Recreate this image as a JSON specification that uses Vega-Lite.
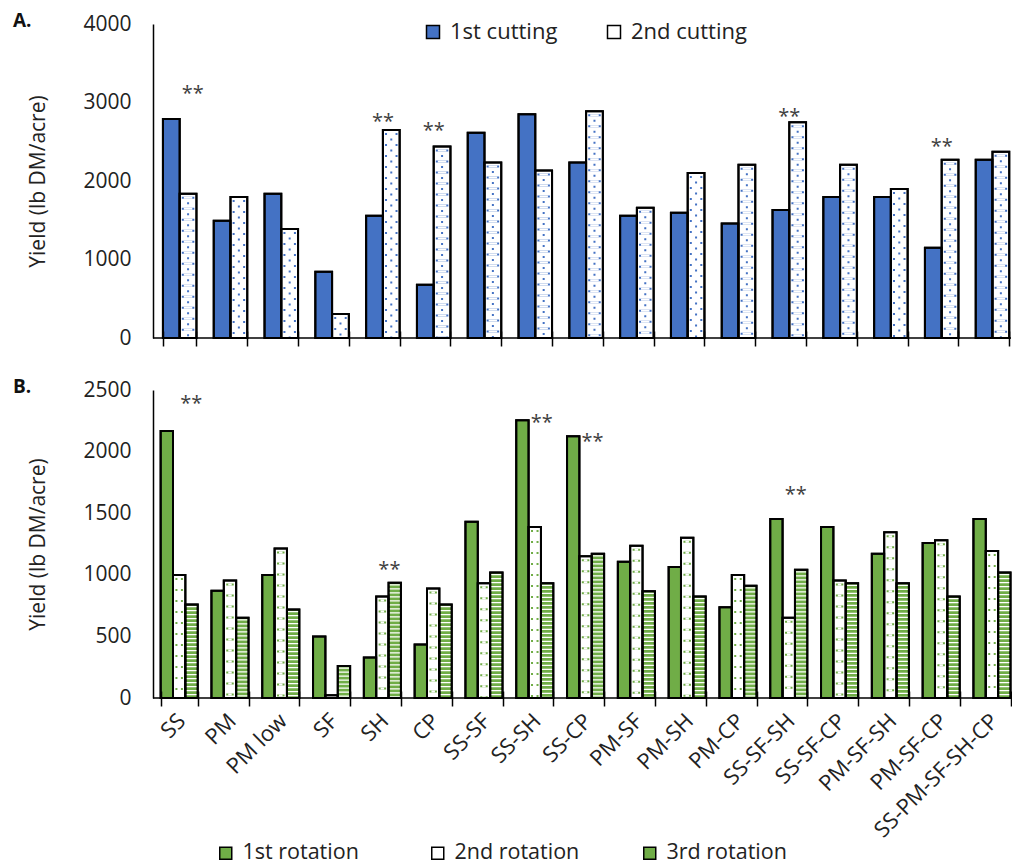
{
  "$schema": "https://vega.github.io/schema/vega-lite/v6.json",
  "padding": {"left": 12, "top": 12, "right": 0, "bottom": 4},
  "config": {
    "view": {"stroke": null},
    "font": "Open Sans",
    "axis": {"labelFont": "Open Sans", "titleFont": "Open Sans", "labelColor": "#222", "titleColor": "#222"},
    "legend": {"labelFont": "Open Sans"},
    "title": {"font": "Open Sans"}
  },
  "datasets": {
    "a": [
      {"treatment": "SS", "cutting": "1st cutting", "yield": 2790}, {"treatment": "SS", "cutting": "2nd cutting", "yield": 1838},
      {"treatment": "PM", "cutting": "1st cutting", "yield": 1494}, {"treatment": "PM", "cutting": "2nd cutting", "yield": 1796},
      {"treatment": "PM low", "cutting": "1st cutting", "yield": 1838}, {"treatment": "PM low", "cutting": "2nd cutting", "yield": 1389},
      {"treatment": "SF", "cutting": "1st cutting", "yield": 845}, {"treatment": "SF", "cutting": "2nd cutting", "yield": 306},
      {"treatment": "SH", "cutting": "1st cutting", "yield": 1558}, {"treatment": "SH", "cutting": "2nd cutting", "yield": 2650},
      {"treatment": "CP", "cutting": "1st cutting", "yield": 679}, {"treatment": "CP", "cutting": "2nd cutting", "yield": 2441},
      {"treatment": "SS-SF", "cutting": "1st cutting", "yield": 2615}, {"treatment": "SS-SF", "cutting": "2nd cutting", "yield": 2237},
      {"treatment": "SS-SH", "cutting": "1st cutting", "yield": 2849}, {"treatment": "SS-SH", "cutting": "2nd cutting", "yield": 2135},
      {"treatment": "SS-CP", "cutting": "1st cutting", "yield": 2237}, {"treatment": "SS-CP", "cutting": "2nd cutting", "yield": 2887},
      {"treatment": "PM-SF", "cutting": "1st cutting", "yield": 1558}, {"treatment": "PM-SF", "cutting": "2nd cutting", "yield": 1660},
      {"treatment": "PM-SH", "cutting": "1st cutting", "yield": 1596}, {"treatment": "PM-SH", "cutting": "2nd cutting", "yield": 2102},
      {"treatment": "PM-CP", "cutting": "1st cutting", "yield": 1460}, {"treatment": "PM-CP", "cutting": "2nd cutting", "yield": 2208},
      {"treatment": "SS-SF-SH", "cutting": "1st cutting", "yield": 1631}, {"treatment": "SS-SF-SH", "cutting": "2nd cutting", "yield": 2747},
      {"treatment": "SS-SF-CP", "cutting": "1st cutting", "yield": 1796}, {"treatment": "SS-SF-CP", "cutting": "2nd cutting", "yield": 2208},
      {"treatment": "PM-SF-SH", "cutting": "1st cutting", "yield": 1796}, {"treatment": "PM-SF-SH", "cutting": "2nd cutting", "yield": 1898},
      {"treatment": "PM-SF-CP", "cutting": "1st cutting", "yield": 1150}, {"treatment": "PM-SF-CP", "cutting": "2nd cutting", "yield": 2271},
      {"treatment": "SS-PM-SF-SH-CP", "cutting": "1st cutting", "yield": 2271}, {"treatment": "SS-PM-SF-SH-CP", "cutting": "2nd cutting", "yield": 2373}
    ],
    "b": [
      {"treatment": "SS", "rotation": "1st rotation", "yield": 2168}, {"treatment": "SS", "rotation": "2nd rotation", "yield": 998}, {"treatment": "SS", "rotation": "3rd rotation", "yield": 759},
      {"treatment": "PM", "rotation": "1st rotation", "yield": 870}, {"treatment": "PM", "rotation": "2nd rotation", "yield": 954}, {"treatment": "PM", "rotation": "3rd rotation", "yield": 651},
      {"treatment": "PM low", "rotation": "1st rotation", "yield": 998}, {"treatment": "PM low", "rotation": "2nd rotation", "yield": 1214}, {"treatment": "PM low", "rotation": "3rd rotation", "yield": 718},
      {"treatment": "SF", "rotation": "1st rotation", "yield": 499}, {"treatment": "SF", "rotation": "2nd rotation", "yield": 22}, {"treatment": "SF", "rotation": "3rd rotation", "yield": 260},
      {"treatment": "SH", "rotation": "1st rotation", "yield": 328}, {"treatment": "SH", "rotation": "2nd rotation", "yield": 824}, {"treatment": "SH", "rotation": "3rd rotation", "yield": 935},
      {"treatment": "CP", "rotation": "1st rotation", "yield": 434}, {"treatment": "CP", "rotation": "2nd rotation", "yield": 889}, {"treatment": "CP", "rotation": "3rd rotation", "yield": 759},
      {"treatment": "SS-SF", "rotation": "1st rotation", "yield": 1431}, {"treatment": "SS-SF", "rotation": "2nd rotation", "yield": 932}, {"treatment": "SS-SF", "rotation": "3rd rotation", "yield": 1019},
      {"treatment": "SS-SH", "rotation": "1st rotation", "yield": 2255}, {"treatment": "SS-SH", "rotation": "2nd rotation", "yield": 1388}, {"treatment": "SS-SH", "rotation": "3rd rotation", "yield": 932},
      {"treatment": "SS-CP", "rotation": "1st rotation", "yield": 2125}, {"treatment": "SS-CP", "rotation": "2nd rotation", "yield": 1150}, {"treatment": "SS-CP", "rotation": "3rd rotation", "yield": 1171},
      {"treatment": "PM-SF", "rotation": "1st rotation", "yield": 1106}, {"treatment": "PM-SF", "rotation": "2nd rotation", "yield": 1236}, {"treatment": "PM-SF", "rotation": "3rd rotation", "yield": 867},
      {"treatment": "PM-SH", "rotation": "1st rotation", "yield": 1063}, {"treatment": "PM-SH", "rotation": "2nd rotation", "yield": 1301}, {"treatment": "PM-SH", "rotation": "3rd rotation", "yield": 824},
      {"treatment": "PM-CP", "rotation": "1st rotation", "yield": 737}, {"treatment": "PM-CP", "rotation": "2nd rotation", "yield": 998}, {"treatment": "PM-CP", "rotation": "3rd rotation", "yield": 911},
      {"treatment": "SS-SF-SH", "rotation": "1st rotation", "yield": 1453}, {"treatment": "SS-SF-SH", "rotation": "2nd rotation", "yield": 651}, {"treatment": "SS-SF-SH", "rotation": "3rd rotation", "yield": 1041},
      {"treatment": "SS-SF-CP", "rotation": "1st rotation", "yield": 1388}, {"treatment": "SS-SF-CP", "rotation": "2nd rotation", "yield": 954}, {"treatment": "SS-SF-CP", "rotation": "3rd rotation", "yield": 932},
      {"treatment": "PM-SF-SH", "rotation": "1st rotation", "yield": 1171}, {"treatment": "PM-SF-SH", "rotation": "2nd rotation", "yield": 1345}, {"treatment": "PM-SF-SH", "rotation": "3rd rotation", "yield": 932},
      {"treatment": "PM-SF-CP", "rotation": "1st rotation", "yield": 1258}, {"treatment": "PM-SF-CP", "rotation": "2nd rotation", "yield": 1280}, {"treatment": "PM-SF-CP", "rotation": "3rd rotation", "yield": 824},
      {"treatment": "SS-PM-SF-SH-CP", "rotation": "1st rotation", "yield": 1453}, {"treatment": "SS-PM-SF-SH-CP", "rotation": "2nd rotation", "yield": 1193}, {"treatment": "SS-PM-SF-SH-CP", "rotation": "3rd rotation", "yield": 1019}
    ],
    "sigA": [
      {"treatment": "SS", "y": 3112, "label": "**"},
      {"treatment": "SH", "y": 2746, "label": "**"},
      {"treatment": "CP", "y": 2640, "label": "**"},
      {"treatment": "SS-SF-SH", "y": 2819, "label": "**"},
      {"treatment": "PM-SF-CP", "y": 2436, "label": "**"}
    ],
    "sigB": [
      {"treatment": "SS", "y": 2385, "label": "**"},
      {"treatment": "SH", "y": 1038, "label": "**"},
      {"treatment": "SS-SH", "y": 2236, "label": "**"},
      {"treatment": "SS-CP", "y": 2081, "label": "**"},
      {"treatment": "SS-SF-SH", "y": 1648, "label": "**"}
    ]
  },
  "spacing": 30,
  "resolve": {"scale": {"x": "independent", "y": "independent", "fill": "independent", "xOffset": "independent"}, "legend": {"fill": "independent"}},
  "vconcat": [
    {
      "width": 858,
      "height": 314,
      "title": {"text": "A.", "anchor": "start", "frame": "bounds", "fontSize": 19, "fontWeight": "bold", "color": "#111", "offset": 0, "dx": -15, "dy": 18},
      "layer": [
        {
          "data": {"name": "a"},
          "mark": {"type": "bar", "stroke": "#000", "strokeWidth": 2},
          "encoding": {
            "x": {"field": "treatment", "type": "nominal", "sort": null,
              "scale": {"domain": ["SS","PM","PM low","SF","SH","CP","SS-SF","SS-SH","SS-CP","PM-SF","PM-SH","PM-CP","SS-SF-SH","SS-SF-CP","PM-SF-SH","PM-SF-CP","SS-PM-SF-SH-CP"], "paddingInner": 0.34, "paddingOuter": 0.115, "align": 0.85},
              "axis": {"title": null, "labels": false, "domain": false, "ticks": true, "tickSize": 15, "tickWidth": 1.5, "tickColor": "#000", "tickBand": "extent", "offset": -7, "grid": false, "zindex": 1}},
            "xOffset": {"field": "cutting", "type": "nominal", "sort": null, "scale": {"domain": ["1st cutting", "2nd cutting"]}},
            "y": {"field": "yield", "type": "quantitative", "scale": {"domain": [0, 4000], "nice": false},
              "axis": {"title": "Yield (lb DM/acre)", "values": [0, 1000, 2000, 3000, 4000], "format": "d", "ticks": false, "grid": false, "domain": true, "domainColor": "#000", "domainWidth": 1.5, "labelFontSize": 21, "labelPadding": 22, "titleFontSize": 21, "titleFontWeight": "normal", "titlePadding": 34}},
            "fill": {"field": "cutting", "type": "nominal", "sort": null,
              "scale": {"domain": ["1st cutting", "2nd cutting"], "range": ["#4472C4", "#ffffff"]},
              "legend": {"orient": "none", "legendX": 269, "legendY": -3, "direction": "horizontal", "title": null, "symbolType": "square", "symbolSize": 169, "labelFontSize": 22, "labelColor": "#222", "labelOffset": 6, "columnPadding": 37, "gridAlign": "all",
                "encode": {"symbols": {"update": {"stroke": {"value": "#000"}, "strokeWidth": {"value": 1.5}}}}}}
          }
        },
        {
          "data": {"name": "a"},
          "transform": [{"filter": "datum.cutting === '2nd cutting'"}],
          "mark": {"type": "rule", "color": "#4472C4", "strokeWidth": 12.5, "strokeDash": [2, 9], "strokeDashOffset": 8},
          "encoding": {
            "x": {"field": "treatment", "type": "nominal"},
            "xOffset": {"field": "cutting", "type": "nominal"},
            "y": {"field": "yield", "type": "quantitative"},
            "y2": {"datum": 0}
          }
        },
        {
          "data": {"name": "a"},
          "transform": [{"filter": "datum.cutting === '2nd cutting'"}],
          "mark": {"type": "rule", "color": "#ffffff", "strokeWidth": 8.5, "strokeDash": [2, 9], "strokeDashOffset": 8},
          "encoding": {
            "x": {"field": "treatment", "type": "nominal"},
            "xOffset": {"field": "cutting", "type": "nominal"},
            "y": {"field": "yield", "type": "quantitative"},
            "y2": {"datum": 0}
          }
        },
        {
          "data": {"name": "a"},
          "transform": [{"filter": "datum.cutting === '2nd cutting'"}],
          "mark": {"type": "rule", "color": "#4472C4", "strokeWidth": 2, "strokeDash": [2, 9], "strokeDashOffset": 2.5},
          "encoding": {
            "x": {"field": "treatment", "type": "nominal"},
            "xOffset": {"field": "cutting", "type": "nominal"},
            "y": {"field": "yield", "type": "quantitative"},
            "y2": {"datum": 0}
          }
        },
        {
          "data": {"name": "a"},
          "mark": {"type": "bar", "filled": false, "fill": "transparent", "stroke": "#000", "strokeWidth": 2, "strokeOpacity": 1},
          "encoding": {
            "x": {"field": "treatment", "type": "nominal"},
            "xOffset": {"field": "cutting", "type": "nominal"},
            "y": {"field": "yield", "type": "quantitative"}
          }
        },
        {
          "data": {"values": [{}]},
          "mark": {"type": "rule", "color": "#000", "strokeWidth": 1.5},
          "encoding": {"y": {"datum": 0}}
        },
        {
          "data": {"name": "sigA"},
          "transform": [{"filter": "datum.treatment === 'SS'"}],
          "mark": {"type": "text", "fontSize": 20, "color": "#404040", "baseline": "middle", "dx": 13},
          "encoding": {
            "x": {"field": "treatment", "type": "nominal"},
            "y": {"field": "y", "type": "quantitative"},
            "text": {"field": "label"}
          }
        },
        {
          "data": {"name": "sigA"},
          "transform": [{"filter": "datum.treatment !== 'SS'"}],
          "mark": {"type": "text", "fontSize": 20, "color": "#404040", "baseline": "middle", "dx": 0},
          "encoding": {
            "x": {"field": "treatment", "type": "nominal"},
            "y": {"field": "y", "type": "quantitative"},
            "text": {"field": "label"}
          }
        }
      ]
    },
    {
      "width": 858,
      "height": 308,
      "title": {"text": "B.", "anchor": "start", "frame": "bounds", "fontSize": 19, "fontWeight": "bold", "color": "#111", "offset": 0, "dx": -15, "dy": 18},
      "layer": [
        {
          "data": {"name": "b"},
          "mark": {"type": "bar", "stroke": "#000", "strokeWidth": 2},
          "encoding": {
            "x": {"field": "treatment", "type": "nominal", "sort": null,
              "scale": {"domain": ["SS","PM","PM low","SF","SH","CP","SS-SF","SS-SH","SS-CP","PM-SF","PM-SH","PM-CP","SS-SF-SH","SS-SF-CP","PM-SF-SH","PM-SF-CP","SS-PM-SF-SH-CP"], "paddingInner": 0.27, "paddingOuter": 0.08, "align": 0.94},
              "axis": {"title": null, "labels": true, "labelAngle": -45, "labelAlign": "right", "labelBaseline": "top", "labelFontSize": 22, "labelPadding": 4, "labelOffset": -5, "labelOverlap": false, "labelLimit": 300, "domain": false, "ticks": true, "tickSize": 15, "tickWidth": 1.5, "tickColor": "#000", "tickBand": "extent", "offset": -7, "grid": false, "zindex": 1}},
            "xOffset": {"field": "rotation", "type": "nominal", "sort": null, "scale": {"domain": ["1st rotation", "2nd rotation", "3rd rotation"]}},
            "y": {"field": "yield", "type": "quantitative", "scale": {"domain": [0, 2500], "nice": false},
              "axis": {"title": "Yield (lb DM/acre)", "values": [0, 500, 1000, 1500, 2000, 2500], "format": "d", "ticks": false, "grid": false, "domain": true, "domainColor": "#000", "domainWidth": 1.5, "labelFontSize": 21, "labelPadding": 22, "titleFontSize": 21, "titleFontWeight": "normal", "titlePadding": 34}},
            "fill": {"field": "rotation", "type": "nominal", "sort": null,
              "scale": {"domain": ["1st rotation", "2nd rotation", "3rd rotation"], "range": ["#70AD47", "#ffffff", "#70AD47"]},
              "legend": {"orient": "none", "legendX": 62, "legendY": 452, "direction": "horizontal", "title": null, "symbolType": "square", "symbolSize": 144, "labelFontSize": 21.5, "labelColor": "#222", "labelOffset": 6, "columnPadding": 59, "gridAlign": "all",
                "encode": {"symbols": {"update": {"stroke": {"value": "#000"}, "strokeWidth": {"value": 1.5}, "fill": {"signal": "datum.value === '1st rotation' ? '#70AD47' : datum.value === '2nd rotation' ? '#ffffff' : {gradient: 'linear', x1: 0, y1: 0, x2: 0, y2: 1, stops: [{offset: 0, color: '#70AD47'}, {offset: 0.36, color: '#70AD47'}, {offset: 0.36, color: '#ffffff'}, {offset: 0.6, color: '#ffffff'}, {offset: 0.6, color: '#70AD47'}, {offset: 1, color: '#70AD47'}]}"}}}}}}
          }
        },
        {
          "data": {"name": "b"},
          "transform": [{"filter": "datum.rotation === '2nd rotation'"}],
          "mark": {"type": "rule", "color": "#70AD47", "strokeWidth": 7.5, "strokeDash": [2, 9], "strokeDashOffset": 8},
          "encoding": {
            "x": {"field": "treatment", "type": "nominal"},
            "xOffset": {"field": "rotation", "type": "nominal"},
            "y": {"field": "yield", "type": "quantitative"},
            "y2": {"datum": 0}
          }
        },
        {
          "data": {"name": "b"},
          "transform": [{"filter": "datum.rotation === '2nd rotation'"}],
          "mark": {"type": "rule", "color": "#ffffff", "strokeWidth": 3.5, "strokeDash": [2, 9], "strokeDashOffset": 8},
          "encoding": {
            "x": {"field": "treatment", "type": "nominal"},
            "xOffset": {"field": "rotation", "type": "nominal"},
            "y": {"field": "yield", "type": "quantitative"},
            "y2": {"datum": 0}
          }
        },
        {
          "data": {"name": "b"},
          "transform": [{"filter": "datum.rotation === '3rd rotation'"}],
          "mark": {"type": "rule", "color": "#ffffff", "strokeWidth": 10.5, "strokeDash": [1.3, 2.7], "strokeDashOffset": 2.5},
          "encoding": {
            "x": {"field": "treatment", "type": "nominal"},
            "xOffset": {"field": "rotation", "type": "nominal"},
            "y": {"field": "yield", "type": "quantitative"},
            "y2": {"datum": 0}
          }
        },
        {
          "data": {"name": "b"},
          "mark": {"type": "bar", "filled": false, "fill": "transparent", "stroke": "#000", "strokeWidth": 2, "strokeOpacity": 1},
          "encoding": {
            "x": {"field": "treatment", "type": "nominal"},
            "xOffset": {"field": "rotation", "type": "nominal"},
            "y": {"field": "yield", "type": "quantitative"}
          }
        },
        {
          "data": {"values": [{}]},
          "mark": {"type": "rule", "color": "#000", "strokeWidth": 1.5},
          "encoding": {"y": {"datum": 0}}
        },
        {
          "data": {"name": "sigB"},
          "transform": [{"filter": "datum.treatment === 'SS'"}],
          "mark": {"type": "text", "fontSize": 20, "color": "#404040", "baseline": "middle", "dx": 12},
          "encoding": {
            "x": {"field": "treatment", "type": "nominal"},
            "y": {"field": "y", "type": "quantitative"},
            "text": {"field": "label"}
          }
        },
        {
          "data": {"name": "sigB"},
          "transform": [{"filter": "datum.treatment !== 'SS'"}],
          "mark": {"type": "text", "fontSize": 20, "color": "#404040", "baseline": "middle", "dx": 7},
          "encoding": {
            "x": {"field": "treatment", "type": "nominal"},
            "y": {"field": "y", "type": "quantitative"},
            "text": {"field": "label"}
          }
        }
      ]
    }
  ]
}
